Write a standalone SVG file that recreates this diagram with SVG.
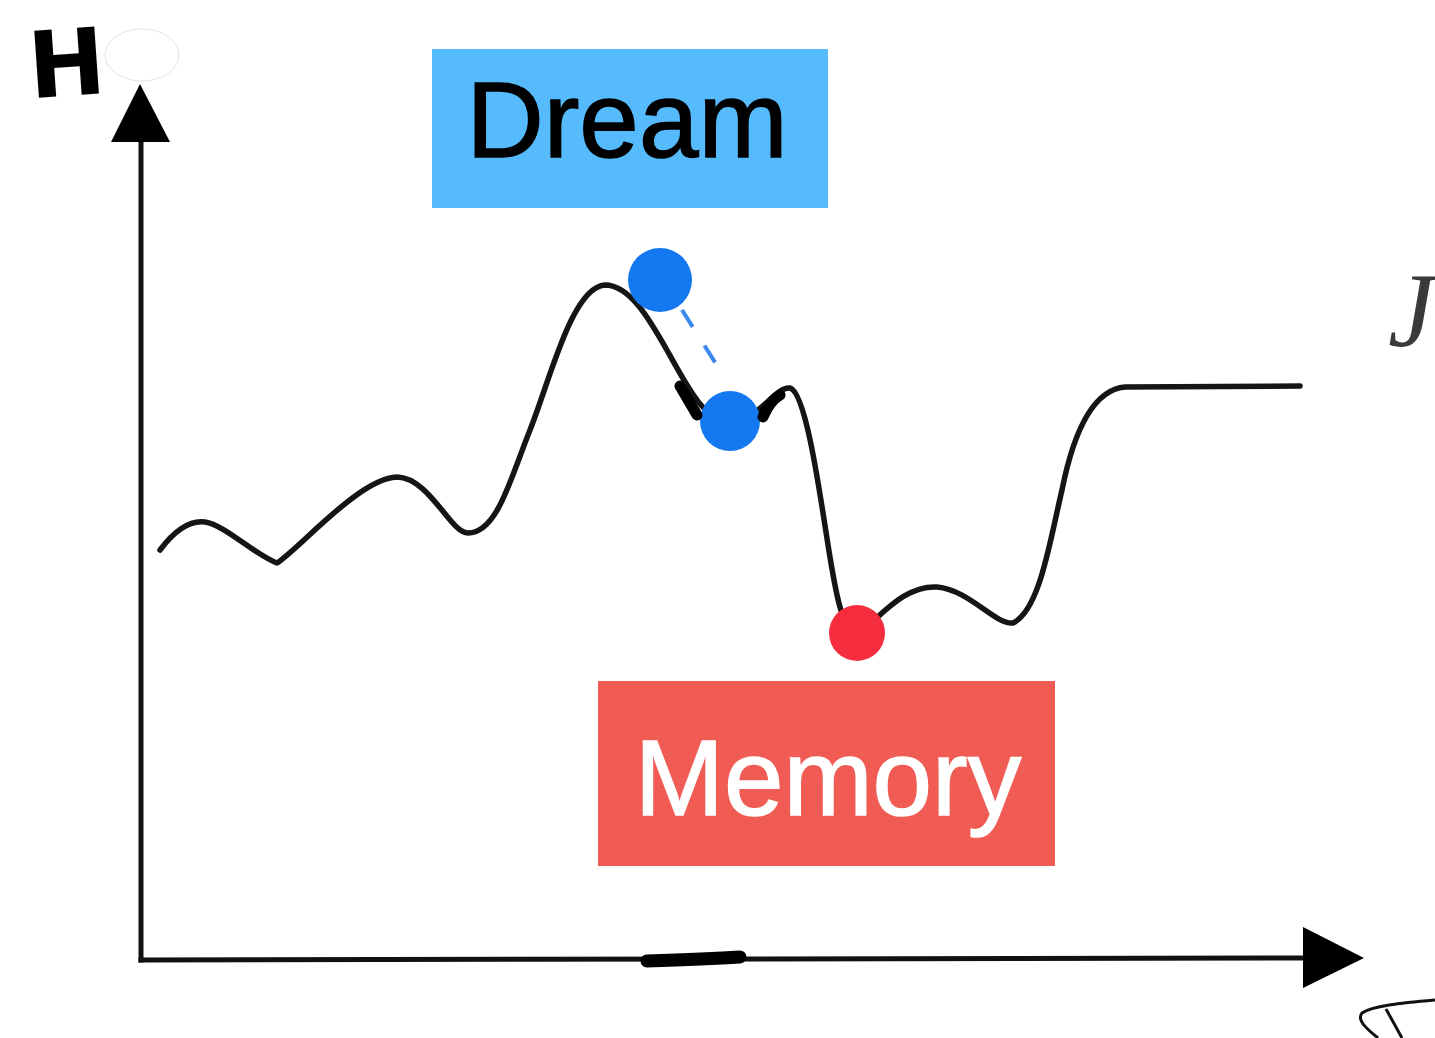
<svg xmlns="http://www.w3.org/2000/svg" width="1435" height="1038" viewBox="0 0 1435 1038">
<style>
.axis{fill:none;stroke:#111;stroke-width:5;stroke-linecap:square}
.curve{fill:none;stroke:#151515;stroke-width:5.5;stroke-linejoin:round;stroke-linecap:round}
.mark{fill:none;stroke:#000;stroke-width:11;stroke-linecap:round}
.lbl{font-family:"Liberation Sans",Arial,Helvetica,sans-serif;font-size:107px;text-anchor:middle;stroke-width:1.5}
</style>
<rect width="1435" height="1038" fill="#fff"/>
<g id="axes">
<path class="axis" d="M141,960 L141,135"/>
<path class="axis" d="M141,960 L1310,958"/>
<polygon points="140,84 111,142 170,142" fill="#000"/>
<polygon points="1364,958 1303,927 1303,988" fill="#000"/>
</g>
<g id="connectors">
<path class="curve" d="M160,550 C175,530 190,520 205,522 C225,525 255,555 277,563 C300,548 360,478 397,477 C430,478 450,533 468,533 C497,533 510,480 530,430 C550,380 572,287 605,285 C630,285 650,320 668,352 C690,392 705,420 730,422 C760,420 775,386 790,388 C805,392 818,480 828,545 C836,595 842,630 857,633 C875,625 900,585 937,587 C970,590 995,625 1013,623 C1040,610 1050,540 1062,490 C1072,440 1090,390 1125,387 L1300,386"/>
<path d="M682,310 L723,375" fill="none" stroke="#3b88ee" stroke-width="4" stroke-dasharray="20,22"/>
</g>
<g id="dream">
<rect x="432" y="49" width="396" height="159" fill="#55bbfd"/>
<text class="lbl" x="627" y="157" fill="#000" stroke="#000">Dream</text>
</g>
<g id="memory">
<rect x="598" y="681" width="457" height="185" fill="#f05b53"/>
<text class="lbl" x="828" y="815" fill="#fff" stroke="#fff">Memory</text>
</g>
<g id="dot-dream-1"><circle cx="660" cy="280" r="32" fill="#1479f0"/></g>
<g id="dot-dream-2"><circle cx="730" cy="421" r="30" fill="#1479f0"/></g>
<g id="dot-memory"><circle cx="857" cy="633" r="28" fill="#f52d3f"/></g>
<g id="marks">
<path class="mark" d="M680,386 L697,415"/>
<path class="mark" d="M763,417 C768,405 773,399 780,395"/>
<path d="M647,961 C680,960 710,959 740,957" fill="none" stroke="#000" stroke-width="13" stroke-linecap="round"/>
</g>
<g id="label-h">
<text x="28" y="96" transform="rotate(-4 60 60)" font-family="'DejaVu Sans',sans-serif" font-weight="bold" font-size="92" fill="#000">H</text>
<ellipse cx="142" cy="55" rx="37" ry="26" fill="#fff" stroke="#e4e4e4" stroke-width="1"/>
</g>
<g id="label-j">
<text x="1388" y="346" font-family="'Liberation Serif','Times New Roman',serif" font-style="italic" font-size="105" fill="#3a3a3a">J</text>
</g>
<g id="corner-stroke">
<path d="M1435,1000 C1400,1003 1372,1006 1362,1013 C1356,1020 1368,1030 1378,1038 M1386,1009 L1402,1038" fill="none" stroke="#111" stroke-width="3"/>
</g>
</svg>
